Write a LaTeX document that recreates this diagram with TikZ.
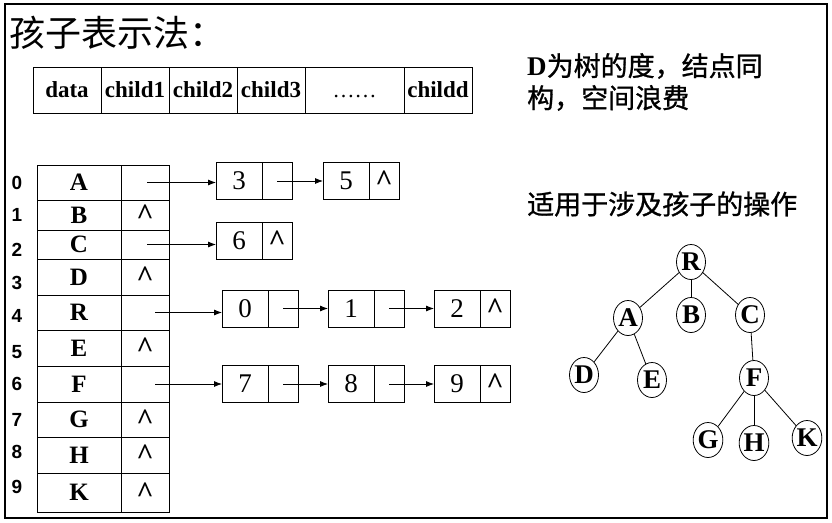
\documentclass[tikz,border=0pt]{standalone}
\usepackage{fontspec}
\setmainfont{Liberation Serif}
\newfontfamily\cjk{Noto Sans CJK SC}
\newfontfamily\cjkheavy[FakeBold=1]{Noto Sans CJK SC}
\newfontfamily\arialfont{Liberation Sans}
\usetikzlibrary{
  arrows.meta,
  positioning,
  shapes.geometric
}
\tikzset{
  hdrcell/.style={draw,line width=0.8pt,minimum width=68pt,minimum height=46pt,inner sep=0pt,outer sep=0pt,text height=15pt,text depth=0pt,font=\fontsize{23}{26}\selectfont\bfseries},
  datacell/.style={draw,line width=0.8pt,minimum width=84pt,inner sep=0pt,outer sep=0pt,font=\fontsize{25}{26}\selectfont\bfseries},
  linkcell/.style={draw,line width=0.8pt,minimum width=48pt,inner sep=0pt,outer sep=0pt,font=\fontsize{30}{30}\selectfont\bfseries},
  idxlabel/.style={inner sep=0pt,font=\arialfont\fontsize{19}{20}\selectfont\bfseries},
  valbox/.style={draw,line width=0.8pt,minimum width=46pt,minimum height=37pt,inner sep=0pt,outer sep=0pt,font=\fontsize{27}{28}\selectfont},
  nextbox/.style={draw,line width=0.8pt,minimum width=30pt,minimum height=37pt,inner sep=0pt,outer sep=0pt,font=\fontsize{30}{30}\selectfont\bfseries},
  ptrarrow/.style={-{Latex[length=8pt,width=6pt]},line width=0.8pt},
  treenode/.style={draw,ellipse,line width=0.8pt,minimum width=29pt,minimum height=35pt,inner sep=0pt,font=\fontsize{27}{28}\selectfont\bfseries},
  treeedge/.style={line width=0.8pt},
  note/.style={anchor=west,align=left,inner sep=0pt,font=\cjkheavy\fontsize{27}{32}\selectfont}
}

\begin{document}
\begin{tikzpicture}[x=1pt,y=-1pt,node distance=31pt]
\useasboundingbox (0,0) rectangle (832,522);
\draw[line width=1.2pt] (5,4) rectangle (827,518);

% title and node layout
\node[anchor=west,inner sep=0pt,font=\cjk\fontsize{36}{40}\selectfont] (title) at (9,33) {孩子表示法：};
\node[hdrcell] (hdata) at (67,90) {data};
\node[hdrcell, right=0pt of hdata] (hc1) {child1};
\node[hdrcell, right=0pt of hc1] (hc2) {child2};
\node[hdrcell, right=0pt of hc2] (hc3) {child3};
\node[hdrcell, right=0pt of hc3, minimum width=99pt, font=\fontsize{22}{26}\selectfont] (hdots) {……};
\node[hdrcell, right=0pt of hdots] (hcd) {childd};

% index table
\foreach \ya/\yb/\ltr/\ptr [count=\k from 0] in {165/200/A/{},200/230/B/\textasciicircum,230/259/C/{},259/295/D/\textasciicircum,295/330/R/{},330/366/E/\textasciicircum,366/402/F/{},402/437/G/\textasciicircum,437/473/H/\textasciicircum,473/512/K/\textasciicircum}{
  \node[datacell,minimum height={(\yb-\ya)*1pt}] (d\k) at (79,{(\ya+\yb)/2}) {\ltr};
  \node[linkcell,minimum height={(\yb-\ya)*1pt}] (p\k) at (145,{(\ya+\yb)/2}) {\ptr};
}
\foreach \i/\y in {0/183,1/215,2/250,3/283,4/316,5/352,6/384,7/420,8/452,9/487}
  \node[idxlabel] (n\i) at (17,\y) {\i};

% child lists
\node[valbox] (v3) at (239,181) {3};
\node[nextbox, right=0pt of v3] (q3) {};
\node[valbox, right=of q3] (v5) {5};
\node[nextbox, right=0pt of v5] (q5) {\textasciicircum};

\node[valbox] (v6) at (239,241) {6};
\node[nextbox, right=0pt of v6] (q6) {\textasciicircum};

\node[valbox] (v0) at (245,308.5) {0};
\node[nextbox, right=0pt of v0] (q0) {};
\node[valbox, right=30pt of q0] (v1) {1};
\node[nextbox, right=0pt of v1] (q1) {};
\node[valbox, right=30pt of q1] (v2) {2};
\node[nextbox, right=0pt of v2] (q2) {\textasciicircum};

\node[valbox] (v7) at (245,384) {7};
\node[nextbox, right=0pt of v7] (q7) {};
\node[valbox, right=30pt of q7] (v8) {8};
\node[nextbox, right=0pt of v8] (q8) {};
\node[valbox, right=30pt of q8] (v9) {9};
\node[nextbox, right=0pt of v9] (q9) {\textasciicircum};

\draw[ptrarrow] ([xshift=2pt]p0.center) -- (p0.center -| v3.west);
\draw[ptrarrow] ([xshift=2pt]p2.center) -- (p2.center -| v6.west);
\draw[ptrarrow] ([xshift=10pt]p4.center) -- (p4.center -| v0.west);
\draw[ptrarrow] ([xshift=10pt]p6.center) -- (p6.center -| v7.west);
\draw[ptrarrow] (q3.center) -- (v5.west);
\draw[ptrarrow] (q0.center) -- (v1.west);
\draw[ptrarrow] (q1.center) -- (v2.west);
\draw[ptrarrow] (q7.center) -- (v8.west);
\draw[ptrarrow] (q8.center) -- (v9.west);

% notes
\node[note] (degnote) at (527,82) {{\rmfamily\bfseries D}为树的度，结点同\\构，空间浪费};
\node[note] (usenote) at (527,204) {适用于涉及孩子的操作};

% tree
\node[treenode] (tR) at (691,262) {R};
\node[treenode] (tA) at (628,318) {A};
\node[treenode] (tB) at (691,315) {B};
\node[treenode] (tC) at (750,315) {C};
\node[treenode] (tD) at (584,375) {D};
\node[treenode] (tE) at (652,380) {E};
\node[treenode] (tF) at (754,378) {F};
\node[treenode] (tG) at (708,440) {G};
\node[treenode] (tH) at (754,443) {H};
\node[treenode] (tK) at (807,438) {K};
\draw[treeedge] (tR) -- (tA);
\draw[treeedge] (tR) -- (tB);
\draw[treeedge] (tR) -- (tC);
\draw[treeedge] (tA) -- (tD);
\draw[treeedge] (tA) -- (tE);
\draw[treeedge] (tC) -- (tF);
\draw[treeedge] (tF) -- (tG);
\draw[treeedge] (tF) -- (tH);
\draw[treeedge] (tF) -- (tK);
\end{tikzpicture}
\end{document}
